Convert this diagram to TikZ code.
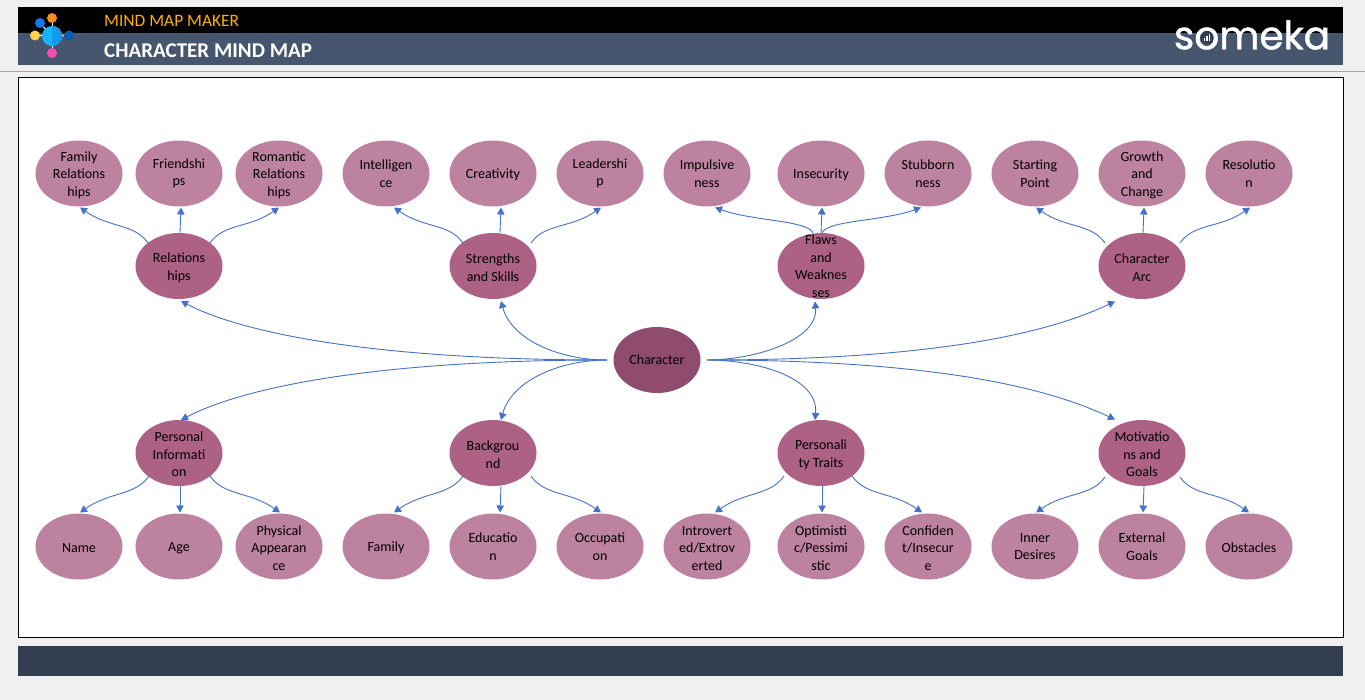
\documentclass[tikz,border=0pt]{standalone}
\usepackage{fontspec}
\setmainfont{Carlito}
\newfontfamily\logofont[FakeBold=1.2]{Poppins}
\usetikzlibrary{shapes.geometric,arrows.meta}
\definecolor{pagegrey}{HTML}{F0F0F0}
\definecolor{slate}{HTML}{46566E}
\definecolor{footerblue}{HTML}{333F50}
\definecolor{linkblue}{HTML}{4472C4}
\definecolor{rootfill}{HTML}{904C6E}
\definecolor{branchfill}{HTML}{AD6185}
\definecolor{leaffill}{HTML}{BC82A0}
\definecolor{makeramber}{HTML}{FFB000}
\definecolor{hubblue}{HTML}{18B4FF}
\definecolor{hubshade}{HTML}{129BEB}
\definecolor{dotorange}{HTML}{F68C1E}
\definecolor{dotblue}{HTML}{0F7BE8}
\definecolor{dotyellow}{HTML}{FFD34E}
\definecolor{dotnavy}{HTML}{0A5CAD}
\definecolor{dotpink}{HTML}{F54DB0}
\newcommand{\lift}{\rule{0pt}{13pt}}
\tikzstyle{bubble}=[ellipse,minimum width=87pt,minimum height=66pt,inner xsep=-8pt,inner ysep=-13pt,align=center,text=black,font=\fontsize{14}{17.5}\selectfont]
\tikzstyle{root}=[bubble,fill=rootfill,outer sep=6.5pt]
\tikzstyle{branch}=[bubble,fill=branchfill]
\tikzstyle{leaf}=[bubble,fill=leaffill,outer sep=1pt,execute at begin node={\rule{0pt}{13pt}}]
\tikzstyle{link}=[draw=linkblue,line width=0.9pt,-{Triangle[length=7pt,width=7.5pt]}]
\tikzstyle{dot}=[circle,inner sep=0pt,minimum size=10pt]
\tikzstyle{spoke}=[draw=white,line width=1pt]
\tikzstyle{upl}=[out=125,in=-35,out looseness=.8,in looseness=1.2]
\tikzstyle{upr}=[out=55,in=-145,out looseness=.8,in looseness=1.2]
\tikzstyle{dnl}=[out=-125,in=35,out looseness=.8,in looseness=1.2]
\tikzstyle{dnr}=[out=-55,in=145,out looseness=.8,in looseness=1.2]
\begin{document}
\begin{tikzpicture}[x=1pt,y=-1pt]
  \useasboundingbox (0,0) rectangle (1365,700);
  \fill[pagegrey] (0,0) rectangle (1365,700);
  \fill[black] (18,7) rectangle (1343,33);
  \fill[slate] (18,33) rectangle (1343,65);
  \fill[footerblue] (18,646) rectangle (1343,676);
  \draw[black!35,line width=1pt] (0,71.5) -- (1365,71.5);
  \draw[black,fill=white,line width=1pt] (18.5,78) rectangle (1343.5,637.5);

  \node[anchor=west,inner sep=0pt,text=makeramber,font=\fontsize{17.4}{20}\selectfont] (maker) at (104,20.5) {MIND MAP MAKER};
  \node[anchor=west,inner sep=0pt,text=white,font=\fontsize{21}{24}\bfseries\selectfont] (title) at (104,50.5) {CHARACTER MIND MAP};
  \node[inner sep=0pt,text=white,font=\fontsize{39}{40}\logofont\selectfont] (logo) at (1252,35) {someka};
  \fill[slate!70!black] (1207,37.5) circle (6.5);
  \fill[white] (1203.5,38) rectangle (1205,41);
  \fill[white] (1206,36.5) rectangle (1207.5,41);
  \fill[white] (1208.5,34.5) rectangle (1210,41);

  \node[dot,fill=dotorange] (dota) at (52,18) {};
  \node[dot,fill=dotblue] (dotb) at (40,23) {};
  \node[dot,fill=dotyellow] (dotc) at (35,35.5) {};
  \node[dot,fill=dotnavy] (dotd) at (69,35.5) {};
  \node[dot,fill=dotpink] (dote) at (52,53) {};
  \draw[spoke] (52,36) -- (dota);
  \draw[spoke] (52,36) -- (dotb);
  \draw[spoke] (52,36) -- (dotc);
  \draw[spoke] (52,36) -- (dotd);
  \draw[spoke] (52,36) -- (dote);
  \node[dot,fill=hubblue,minimum size=20pt] (hub) at (52,36) {};
  \fill[hubshade] (hub.north) arc (90:-90:10pt) -- cycle;

  \node[root] (character) at (657,360) {Character};

  \node[branch] (relations) at (179,266) {\lift Relations\\hips};
  \node[branch] (strengths) at (493,266) {\lift Strengths\\and Skills};
  \node[branch] (flaws) at (821,266) {Flaws\\and\\Weaknes\\ses};
  \node[branch] (arc) at (1142,266) {\lift Character\\Arc};
  \node[branch] (personal) at (179,453) {\lift Personal\\Informati\\on};
  \node[branch] (background) at (493,453) {\lift Backgrou\\nd};
  \node[branch] (traits) at (821,453) {\lift Personali\\ty Traits};
  \node[branch] (goals) at (1142,453) {\lift Motivatio\\ns and\\Goals};

  \node[leaf] (family) at (79,173.5) {\lift Family\\Relations\\hips};
  \node[leaf] (friends) at (179,173.5) {Friendshi\\ps};
  \node[leaf] (romantic) at (279,173.5) {\lift Romantic\\Relations\\hips};
  \node[leaf] (intel) at (386,173.5) {Intelligen\\ce};
  \node[leaf] (creative) at (493,173.5) {Creativity};
  \node[leaf] (leader) at (600,173.5) {Leadershi\\p};
  \node[leaf] (impulse) at (707,173.5) {Impulsive\\ness};
  \node[leaf] (insecure) at (821,173.5) {Insecurity};
  \node[leaf] (stubborn) at (928,173.5) {Stubborn\\ness};
  \node[leaf] (start) at (1035,173.5) {Starting\\Point};
  \node[leaf] (growth) at (1142,173.5) {\lift Growth\\and\\Change};
  \node[leaf] (resolve) at (1249,173.5) {Resolutio\\n};

  \node[leaf] (name) at (79,546.5) {Name};
  \node[leaf] (age) at (179,546.5) {Age};
  \node[leaf] (looks) at (279,546.5) {\lift Physical\\Appearan\\ce};
  \node[leaf] (famback) at (386,546.5) {Family};
  \node[leaf] (school) at (493,546.5) {Educatio\\n};
  \node[leaf] (job) at (600,546.5) {Occupati\\on};
  \node[leaf] (intro) at (707,546.5) {\lift Introvert\\ed/Extrov\\erted};
  \node[leaf] (optim) at (821,546.5) {\lift Optimisti\\c/Pessimi\\stic};
  \node[leaf] (confid) at (928,546.5) {\lift Confiden\\t/Insecur\\e};
  \node[leaf] (desire) at (1035,546.5) {Inner\\Desires};
  \node[leaf] (external) at (1142,546.5) {External\\Goals};
  \node[leaf] (obstacle) at (1249,546.5) {Obstacles};

  \draw[link] (character.west) to[out=180,in=-28,out looseness=1.6,in looseness=.3] ([shift={(2,35)}]relations.center);
  \draw[link] (character.west) to[out=180,in=-75,in looseness=.85] ([shift={(8,35)}]strengths.center);
  \draw[link] (character.east) to[out=0,in=-85,in looseness=.8] ([shift={(-6,35.5)}]flaws.center);
  \draw[link] (character.east) to[out=0,in=-155,out looseness=1.6,in looseness=.35] ([shift={(-27,35.5)}]arc.center);
  \draw[link] (character.west) to[out=180,in=28,out looseness=1.6,in looseness=.3] ([shift={(2,-33)}]personal.center);
  \draw[link] (character.west) to[out=180,in=75,in looseness=.85] ([shift={(8,-33)}]background.center);
  \draw[link] (character.east) to[out=0,in=85,in looseness=.9] ([shift={(-6,-33)}]traits.center);
  \draw[link] (character.east) to[out=0,in=155,out looseness=1.6,in looseness=.35] ([shift={(-27,-33.5)}]goals.center);

  \draw[link] ([shift={(-31,-23)}]relations.center) to[upl] ([xshift=1pt]family.south);
  \draw[link] ([xshift=1pt]relations.north) -- ([xshift=2pt]friends.south);
  \draw[link] ([shift={(31,-23)}]relations.center) to[upr] (romantic.south);
  \draw[link] ([shift={(-30,-23)}]strengths.center) to[upl] ([xshift=8pt]intel.south);
  \draw[link] ([xshift=7pt]strengths.north) -- ([xshift=8pt]creative.south);
  \draw[link] ([shift={(38,-23)}]strengths.center) to[upr] ([xshift=1pt]leader.south);
  \draw[link] ([xshift=-8pt]flaws.north) to[out=115,in=-20,out looseness=.35] ([xshift=8pt]impulse.south);
  \draw[link] (flaws.north) -- ([xshift=1pt]insecure.south);
  \draw[link] ([xshift=1pt]flaws.north) to[out=65,in=-160,out looseness=.35] ([xshift=-7pt]stubborn.south);
  \draw[link] ([shift={(-37,-23)}]arc.center) to[upl] ([xshift=1pt]start.south);
  \draw[link] ([xshift=1pt]arc.north) -- ([xshift=2pt]growth.south);
  \draw[link] ([shift={(38,-23)}]arc.center) to[upr] ([xshift=1pt]resolve.south);

  \draw[link] ([shift={(-30,23)}]personal.center) to[dnl] ([xshift=1pt]name.north);
  \draw[link] ([xshift=1pt]personal.south) -- ([xshift=1pt]age.north);
  \draw[link] ([shift={(31,23)}]personal.center) to[dnr] ([xshift=1pt]looks.north);
  \draw[link] ([shift={(-30,23)}]background.center) to[dnl] ([xshift=8pt]famback.north);
  \draw[link] ([xshift=8pt]background.south) -- ([xshift=7pt]school.north);
  \draw[link] ([shift={(38,23)}]background.center) to[dnr] ([xshift=1pt]job.north);
  \draw[link] ([shift={(-37,23)}]traits.center) to[dnl] ([xshift=8pt]intro.north);
  \draw[link] ([xshift=1pt]traits.south) -- ([xshift=1pt]optim.north);
  \draw[link] ([shift={(31,23)}]traits.center) to[dnr] ([xshift=-6pt]confid.north);
  \draw[link] ([shift={(-37,24)}]goals.center) to[dnl] ([xshift=1pt]desire.north);
  \draw[link] ([xshift=2pt]goals.south) -- ([xshift=1pt]external.north);
  \draw[link] ([shift={(38,24)}]goals.center) to[dnr] (obstacle.north);
\end{tikzpicture}
\end{document}
